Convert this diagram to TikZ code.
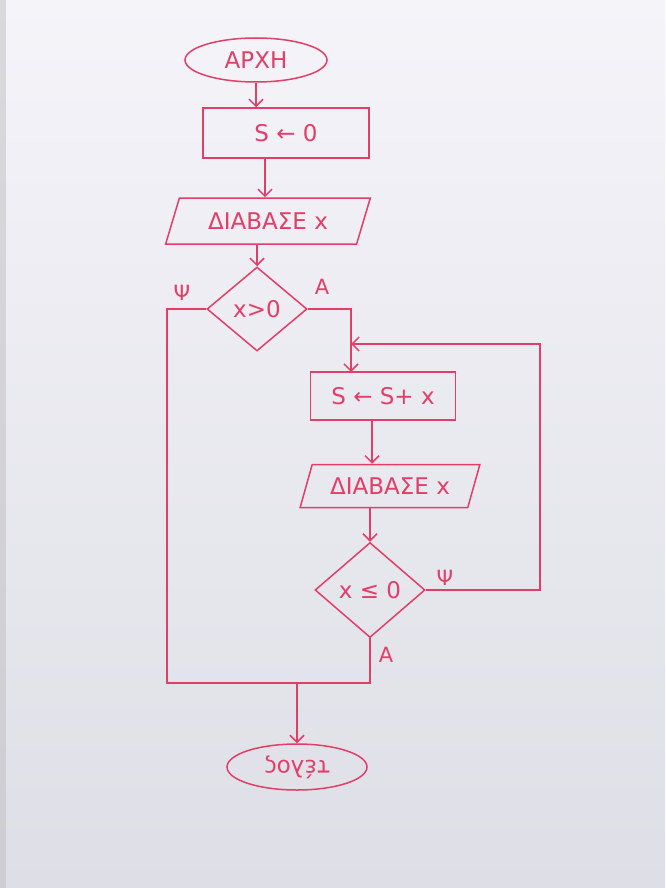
\documentclass[tikz,border=0pt]{standalone}
\usepackage{fontspec}
\setmainfont{DejaVu Sans}
\usepackage{graphicx}
\usetikzlibrary{shapes.geometric,arrows.meta}
\definecolor{ink}{RGB}{226,62,104}
\definecolor{papertop}{RGB}{244,244,249}
\definecolor{paperbot}{RGB}{222,222,230}
\tikzset{
  flow/.style={draw=ink,line width=1.5pt,text=ink,font=\fontsize{23}{26}\selectfont,inner sep=0pt},
  terminal/.style={flow,ellipse},
  process/.style={flow,rectangle},
  io/.style={flow,trapezium,trapezium left angle=61,trapezium right angle=119,trapezium stretches=true},
  decision/.style={flow,diamond},
  arr/.style={draw=ink,line width=1.5pt,-{Straight Barb[length=7pt,width=14pt,line width=1.5pt]}},
  wire/.style={draw=ink,line width=1.5pt},
  branch/.style={text=ink,font=\fontsize{21}{24}\selectfont}
}
\begin{document}
\begin{tikzpicture}[x=1pt,y=-1pt]
  % paper
  \shade[top color=papertop,bottom color=paperbot] (0,0) rectangle (665,888);
  \fill[black!25,opacity=0.5] (0,0) rectangle (6,888);
  \useasboundingbox (0,0) rectangle (665,888);

  % nodes
  \node[terminal,minimum width=142pt,minimum height=44pt] (start) at (256,60) {ΑΡΧΗ};
  \node[process,minimum width=166pt,minimum height=50pt] (init) at (286,133) {S ← 0};
  \node[io,minimum width=205pt,minimum height=46pt] (read1) at (268,221) {ΔΙΑΒΑΣΕ x};
  \node[decision,minimum width=100pt,minimum height=84pt] (cond1) at (257,309) {x>0};
  \node[process,minimum width=145pt,minimum height=48pt] (body) at (383,396) {S ← S+ x};
  \node[io,minimum width=180pt,minimum height=43pt] (read2) at (390,486) {ΔΙΑΒΑΣΕ x};
  \node[decision,minimum width=110pt,minimum height=95pt] (cond2) at (370,590) {x ≤ 0};
  \node[terminal,minimum width=140pt,minimum height=46pt] (stop) at (297,767) {\rotatebox{180}{τέλος}};

  % helper points
  \coordinate (entry) at (351,372);
  \coordinate (loopin) at (351,344);
  \coordinate (merge) at (297,683);

  % straight flow
  \draw[arr] (start.south) -- (start.south |- init.north);
  \draw[arr] ([xshift=-21pt]init.south) -- ([xshift=-21pt]init.south |- read1.north);
  \draw[arr] (cond1.north |- read1.south) -- (cond1.north);
  \draw[arr] (cond1.east) -| (entry);
  \draw[arr] ([xshift=-11pt]body.south) -- ([xshift=-11pt]body.south |- read2.north);
  \draw[arr] (cond2.north |- read2.south) -- (cond2.north);

  % loop back on false
  \draw[arr] (cond2.east) -- (cond2.east -| 540,0) -- (540,344) -- (loopin);

  % exits
  \draw[wire] (cond1.west) -| (167,683) -- (cond2.south |- merge) -- (cond2.south);
  \draw[arr] (merge) -- (stop.north);

  % branch labels
  \node[branch] (t1) at (322,287) {Α};
  \node[branch] (f1) at (182,293) {Ψ};
  \node[branch] (f2) at (445,578) {Ψ};
  \node[branch] (t2) at (386,655) {Α};
\end{tikzpicture}
\end{document}
